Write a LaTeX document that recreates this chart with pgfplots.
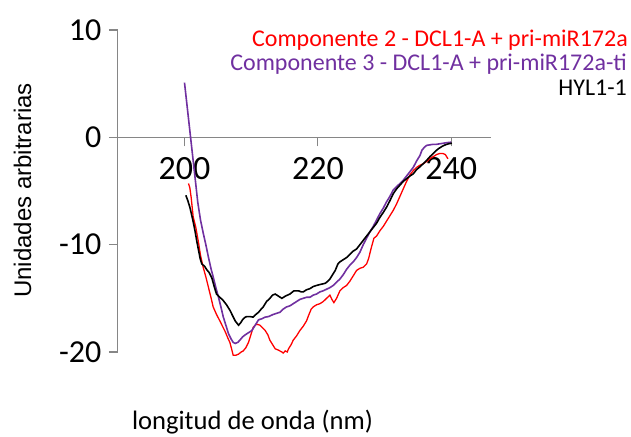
\documentclass[border=0pt]{standalone}
\usepackage{pgfplots}
\pgfplotsset{compat=1.18}
\usepackage{pgfplotstable}
\usepackage{fontspec}
\setmainfont{Carlito}
\newfontfamily\arialfont{Liberation Sans}

\definecolor{cpurple}{RGB}{112,48,160}
\definecolor{axisgray}{RGB}{134,134,134}

% CD spectra: wavelength (nm) vs. signal (arbitrary units)
\pgfplotstableread{
nm val
200.6 -4.3
200.8 -4.7
201.0 -5.6
201.3 -7.4
201.7 -8.4
202.1 -9.8
202.4 -11.0
202.8 -12.1
203.2 -13.0
203.6 -14.0
204.0 -15.0
204.3 -15.8
204.8 -16.5
205.3 -17.1
205.7 -17.6
206.1 -18.1
206.5 -18.7
206.8 -19.1
207.1 -19.8
207.3 -20.3
207.7 -20.3
208.1 -20.2
208.5 -20.0
208.8 -19.9
209.2 -19.6
209.6 -19.1
210.0 -18.3
210.3 -17.7
210.8 -17.4
211.3 -17.5
211.8 -17.8
212.1 -18.0
212.5 -18.4
212.8 -18.9
213.2 -19.3
213.6 -19.7
214.0 -19.8
214.3 -19.9
214.6 -20.0
214.8 -20.1
215.1 -19.9
215.4 -20.0
215.6 -19.7
216.0 -19.3
216.3 -18.9
216.8 -18.5
217.3 -18.0
217.8 -17.6
218.3 -17.1
218.6 -16.6
219.0 -16.0
219.3 -15.8
219.8 -15.6
220.3 -15.5
220.8 -15.3
221.3 -15.0
221.8 -14.7
222.1 -15.1
222.4 -15.4
222.8 -15.0
223.3 -14.3
223.8 -14.0
224.3 -13.8
224.8 -13.4
225.3 -12.9
225.8 -12.4
226.3 -12.2
226.8 -12.1
227.3 -11.8
227.6 -11.3
228.0 -10.3
228.4 -9.4
228.8 -9.2
229.3 -8.7
229.8 -8.3
230.3 -7.8
230.8 -7.3
231.3 -6.8
231.8 -6.2
232.3 -5.5
232.8 -4.8
233.3 -4.1
233.8 -3.5
234.3 -3.1
234.8 -2.8
235.3 -2.6
235.8 -2.45
236.2 -2.3
236.6 -2.1
237.0 -1.9
237.3 -1.8
237.8 -1.6
238.3 -1.5
238.7 -1.5
239.1 -1.6
239.5 -2.0
}\compA

\pgfplotstableread{
nm val
200.0 5.1
200.5 2.3
201.0 -0.5
201.5 -3.3
202.0 -6.1
202.4 -7.7
202.8 -8.9
203.2 -10.0
203.6 -11.2
204.0 -12.3
204.3 -13.0
204.7 -14.0
205.1 -14.9
205.5 -15.9
205.8 -16.7
206.2 -17.5
206.6 -18.3
207.0 -18.8
207.3 -19.1
207.6 -19.2
208.0 -19.1
208.3 -18.9
208.7 -18.6
209.1 -18.4
209.6 -18.2
210.1 -18.0
210.6 -17.5
211.1 -17.0
211.6 -16.9
212.1 -16.75
212.6 -16.7
213.3 -16.5
213.8 -16.4
214.3 -16.3
214.8 -16.0
215.3 -15.8
215.8 -15.7
216.3 -15.5
216.8 -15.3
217.3 -15.1
217.8 -15.0
218.3 -14.9
218.8 -14.9
219.3 -14.7
219.8 -14.6
220.3 -14.4
220.8 -14.3
221.3 -14.15
221.8 -14.0
222.3 -13.8
222.8 -13.5
223.3 -13.2
223.8 -12.8
224.3 -12.3
224.8 -11.9
225.3 -11.6
225.8 -11.2
226.3 -10.7
226.8 -10.0
227.3 -9.4
227.8 -8.8
228.3 -8.3
228.8 -7.7
229.3 -7.1
229.8 -6.6
230.3 -6.0
230.8 -5.5
231.3 -4.9
231.8 -4.6
232.3 -4.3
232.8 -4.0
233.3 -3.6
233.8 -3.2
234.3 -2.8
234.8 -2.2
235.3 -1.7
235.6 -1.2
236.0 -0.9
236.3 -0.75
236.8 -0.7
237.3 -0.65
237.8 -0.65
238.3 -0.6
238.8 -0.55
239.3 -0.5
240.0 -0.45
}\compB

\pgfplotstableread{
nm val
200.2 -5.4
200.5 -5.9
200.8 -6.5
201.1 -7.3
201.35 -8.0
201.6 -8.8
201.85 -9.7
202.1 -10.5
202.35 -11.3
202.6 -11.8
203.0 -12.0
203.3 -12.3
203.7 -12.6
204.1 -13.1
204.5 -14.0
204.8 -14.6
205.3 -14.9
205.8 -15.2
206.3 -15.6
206.8 -16.1
207.2 -16.6
207.6 -17.1
208.1 -17.5
208.4 -17.3
208.7 -17.0
209.0 -16.8
209.3 -16.7
209.8 -16.7
210.3 -16.75
210.7 -16.5
211.1 -16.3
211.5 -16.0
211.8 -15.8
212.3 -15.3
212.8 -15.0
213.2 -14.7
213.6 -14.6
214.1 -14.8
214.6 -15.0
215.1 -14.8
215.8 -14.6
216.4 -14.3
217.1 -14.3
217.5 -14.4
217.8 -14.4
218.3 -14.2
218.8 -14.1
219.3 -13.9
219.8 -13.8
220.4 -13.7
221.1 -13.6
221.5 -13.4
221.8 -13.2
222.3 -12.7
222.6 -12.4
223.0 -11.8
223.3 -11.6
223.8 -11.4
224.3 -11.2
224.8 -10.9
225.3 -10.6
225.8 -10.4
226.3 -10.0
226.8 -9.6
227.3 -9.2
227.8 -8.8
228.3 -8.4
228.8 -8.0
229.3 -7.45
229.8 -7.0
230.3 -6.5
230.8 -5.9
231.3 -5.25
231.8 -4.8
232.3 -4.45
232.8 -4.1
233.3 -3.85
233.8 -3.6
234.3 -3.4
234.8 -3.0
235.3 -2.75
235.8 -2.45
236.3 -2.15
236.8 -1.8
237.3 -1.5
237.7 -1.25
238.1 -1.05
238.6 -0.85
239.1 -0.7
239.6 -0.6
240.1 -0.55
}\hylone

\begin{document}
\begin{tikzpicture}[x=1pt,y=1pt]
\path[use as bounding box] (0,0) rectangle (631,-436);
\begin{axis}[
  at={(117.8pt,-352pt)}, anchor=south west,
  scale only axis, width=373.5pt, height=322pt,
  xmin=190, xmax=246, ymin=-20, ymax=10,
  axis x line=middle, axis y line=left,
  axis line style={-, draw=axisgray, line width=1.2pt},
  hide obscured x ticks=false, hide obscured y ticks=false,
  xtick={200,220,240}, ytick={-20,-10,0,10},
  tick align=outside, major tick length=9pt,
  tick style={draw=axisgray, line width=1.1pt},
  minor tick num=0,
  /pgf/number format/assume math mode=true,
  /pgf/number format/1000 sep={},
  xticklabel style={font=\fontsize{34}{40}\selectfont, anchor=north, yshift=-8pt},
  yticklabel style={font=\fontsize{32}{38}\selectfont, anchor=east, xshift=-4pt},
  clip=false,
]
\addplot[red, line width=1.3pt] table[x=nm, y=val] {\compA};
\addplot[cpurple, line width=1.6pt] table[x=nm, y=val] {\compB};
\addplot[black, line width=1.6pt] table[x=nm, y=val] {\hylone};
\end{axis}
% labels and series names
\node[rotate=90, font=\arialfont\fontsize{24}{28}\selectfont] at (22.5,-190.5) {Unidades arbitrarias};
\node[anchor=base, font=\fontsize{26.6}{32}\selectfont, inner sep=0pt] at (252.5,-429) {longitud de onda (nm)};
\node[anchor=base east, inner sep=0pt, text=red, font=\fontsize{24}{28}\selectfont] at (628,-46.7) {Componente 2 - DCL1-A + pri-miR172a};
\node[anchor=base east, inner sep=0pt, text=cpurple, font=\fontsize{24}{28}\selectfont] at (627,-70.5) {Componente 3 - DCL1-A + pri-miR172a-ti};
\node[anchor=base east, inner sep=0pt, text=black, font=\fontsize{24}{28}\selectfont] at (627,-95) {HYL1-1};
\end{tikzpicture}
\end{document}
